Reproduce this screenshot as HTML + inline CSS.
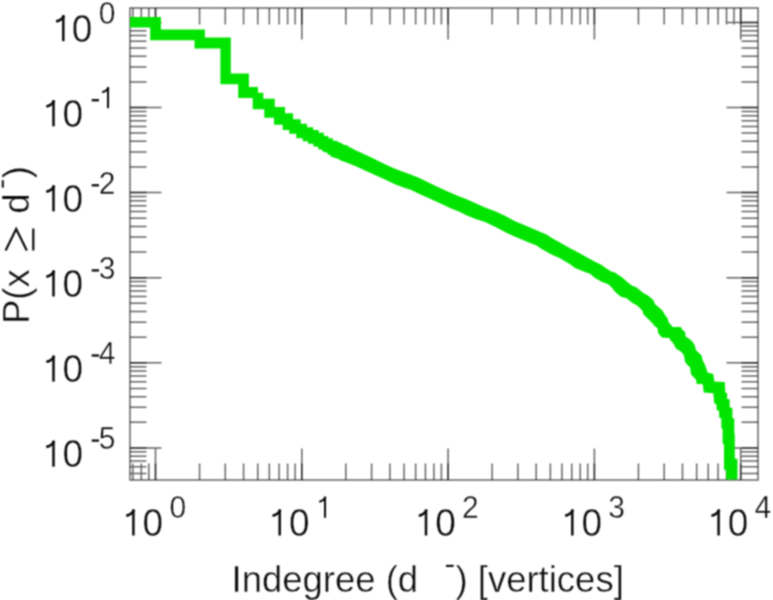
<!DOCTYPE html>
<html><head><meta charset="utf-8"><style>html,body{margin:0;padding:0;background:#fff;width:773px;height:600px;overflow:hidden}svg{display:block}</style></head>
<body>
<svg width="773" height="600" viewBox="0 0 773 600">
<defs><filter id="bl" color-interpolation-filters="sRGB" filterUnits="userSpaceOnUse" x="0" y="0" width="773" height="600"><feConvolveMatrix order="3" kernelMatrix="1 2 1 2 4 2 1 2 1" divisor="16" edgeMode="duplicate"/></filter><clipPath id="c"><rect x="129.2" y="8.0" width="628.8" height="471.4"/></clipPath></defs>
<g filter="url(#bl)">
<rect width="773" height="600" fill="#fff"/>
<path d="M130.00 473.52L146.50 473.52 M758.00 473.52L741.50 473.52 M130.00 466.78L146.50 466.78 M758.00 466.78L741.50 466.78 M130.00 461.08L146.50 461.08 M758.00 461.08L741.50 461.08 M130.00 456.15L146.50 456.15 M758.00 456.15L741.50 456.15 M130.00 451.79L146.50 451.79 M758.00 451.79L741.50 451.79 M130.00 447.90L161.50 447.90 M758.00 447.90L726.50 447.90 M130.00 422.28L146.50 422.28 M758.00 422.28L741.50 422.28 M130.00 407.30L146.50 407.30 M758.00 407.30L741.50 407.30 M130.00 396.66L146.50 396.66 M758.00 396.66L741.50 396.66 M130.00 388.42L146.50 388.42 M758.00 388.42L741.50 388.42 M130.00 381.68L146.50 381.68 M758.00 381.68L741.50 381.68 M130.00 375.98L146.50 375.98 M758.00 375.98L741.50 375.98 M130.00 371.05L146.50 371.05 M758.00 371.05L741.50 371.05 M130.00 366.69L146.50 366.69 M758.00 366.69L741.50 366.69 M130.00 362.80L161.50 362.80 M758.00 362.80L726.50 362.80 M130.00 337.18L146.50 337.18 M758.00 337.18L741.50 337.18 M130.00 322.20L146.50 322.20 M758.00 322.20L741.50 322.20 M130.00 311.56L146.50 311.56 M758.00 311.56L741.50 311.56 M130.00 303.32L146.50 303.32 M758.00 303.32L741.50 303.32 M130.00 296.58L146.50 296.58 M758.00 296.58L741.50 296.58 M130.00 290.88L146.50 290.88 M758.00 290.88L741.50 290.88 M130.00 285.95L146.50 285.95 M758.00 285.95L741.50 285.95 M130.00 281.59L146.50 281.59 M758.00 281.59L741.50 281.59 M130.00 277.70L161.50 277.70 M758.00 277.70L726.50 277.70 M130.00 252.08L146.50 252.08 M758.00 252.08L741.50 252.08 M130.00 237.10L146.50 237.10 M758.00 237.10L741.50 237.10 M130.00 226.46L146.50 226.46 M758.00 226.46L741.50 226.46 M130.00 218.22L146.50 218.22 M758.00 218.22L741.50 218.22 M130.00 211.48L146.50 211.48 M758.00 211.48L741.50 211.48 M130.00 205.78L146.50 205.78 M758.00 205.78L741.50 205.78 M130.00 200.85L146.50 200.85 M758.00 200.85L741.50 200.85 M130.00 196.49L146.50 196.49 M758.00 196.49L741.50 196.49 M130.00 192.60L161.50 192.60 M758.00 192.60L726.50 192.60 M130.00 166.98L146.50 166.98 M758.00 166.98L741.50 166.98 M130.00 152.00L146.50 152.00 M758.00 152.00L741.50 152.00 M130.00 141.36L146.50 141.36 M758.00 141.36L741.50 141.36 M130.00 133.12L146.50 133.12 M758.00 133.12L741.50 133.12 M130.00 126.38L146.50 126.38 M758.00 126.38L741.50 126.38 M130.00 120.68L146.50 120.68 M758.00 120.68L741.50 120.68 M130.00 115.75L146.50 115.75 M758.00 115.75L741.50 115.75 M130.00 111.39L146.50 111.39 M758.00 111.39L741.50 111.39 M130.00 107.50L161.50 107.50 M758.00 107.50L726.50 107.50 M130.00 81.88L146.50 81.88 M758.00 81.88L741.50 81.88 M130.00 66.90L146.50 66.90 M758.00 66.90L741.50 66.90 M130.00 56.26L146.50 56.26 M758.00 56.26L741.50 56.26 M130.00 48.02L146.50 48.02 M758.00 48.02L741.50 48.02 M130.00 41.28L146.50 41.28 M758.00 41.28L741.50 41.28 M130.00 35.58L146.50 35.58 M758.00 35.58L741.50 35.58 M130.00 30.65L146.50 30.65 M758.00 30.65L741.50 30.65 M130.00 26.29L146.50 26.29 M758.00 26.29L741.50 26.29 M130.00 22.40L161.50 22.40 M758.00 22.40L726.50 22.40 M132.84 480.00L132.84 463.50 M132.84 8.00L132.84 24.50 M141.32 480.00L141.32 463.50 M141.32 8.00L141.32 24.50 M148.81 480.00L148.81 463.50 M148.81 8.00L148.81 24.50 M155.50 480.00L155.50 448.50 M155.50 8.00L155.50 39.50 M199.54 480.00L199.54 463.50 M199.54 8.00L199.54 24.50 M225.30 480.00L225.30 463.50 M225.30 8.00L225.30 24.50 M243.58 480.00L243.58 463.50 M243.58 8.00L243.58 24.50 M257.76 480.00L257.76 463.50 M257.76 8.00L257.76 24.50 M269.34 480.00L269.34 463.50 M269.34 8.00L269.34 24.50 M279.14 480.00L279.14 463.50 M279.14 8.00L279.14 24.50 M287.62 480.00L287.62 463.50 M287.62 8.00L287.62 24.50 M295.11 480.00L295.11 463.50 M295.11 8.00L295.11 24.50 M301.80 480.00L301.80 448.50 M301.80 8.00L301.80 39.50 M345.84 480.00L345.84 463.50 M345.84 8.00L345.84 24.50 M371.60 480.00L371.60 463.50 M371.60 8.00L371.60 24.50 M389.88 480.00L389.88 463.50 M389.88 8.00L389.88 24.50 M404.06 480.00L404.06 463.50 M404.06 8.00L404.06 24.50 M415.64 480.00L415.64 463.50 M415.64 8.00L415.64 24.50 M425.44 480.00L425.44 463.50 M425.44 8.00L425.44 24.50 M433.92 480.00L433.92 463.50 M433.92 8.00L433.92 24.50 M441.41 480.00L441.41 463.50 M441.41 8.00L441.41 24.50 M448.10 480.00L448.10 448.50 M448.10 8.00L448.10 39.50 M492.14 480.00L492.14 463.50 M492.14 8.00L492.14 24.50 M517.90 480.00L517.90 463.50 M517.90 8.00L517.90 24.50 M536.18 480.00L536.18 463.50 M536.18 8.00L536.18 24.50 M550.36 480.00L550.36 463.50 M550.36 8.00L550.36 24.50 M561.94 480.00L561.94 463.50 M561.94 8.00L561.94 24.50 M571.74 480.00L571.74 463.50 M571.74 8.00L571.74 24.50 M580.22 480.00L580.22 463.50 M580.22 8.00L580.22 24.50 M587.71 480.00L587.71 463.50 M587.71 8.00L587.71 24.50 M594.40 480.00L594.40 448.50 M594.40 8.00L594.40 39.50 M638.44 480.00L638.44 463.50 M638.44 8.00L638.44 24.50 M664.20 480.00L664.20 463.50 M664.20 8.00L664.20 24.50 M682.48 480.00L682.48 463.50 M682.48 8.00L682.48 24.50 M696.66 480.00L696.66 463.50 M696.66 8.00L696.66 24.50 M708.24 480.00L708.24 463.50 M708.24 8.00L708.24 24.50 M718.04 480.00L718.04 463.50 M718.04 8.00L718.04 24.50 M726.52 480.00L726.52 463.50 M726.52 8.00L726.52 24.50 M734.01 480.00L734.01 463.50 M734.01 8.00L734.01 24.50 M740.70 480.00L740.70 448.50 M740.70 8.00L740.70 39.50" stroke="#000" stroke-opacity="0.6" stroke-width="1.5" fill="none"/>
<path d="M130.00 447.90L146.50 447.90 M758.00 447.90L741.50 447.90 M130.00 362.80L146.50 362.80 M758.00 362.80L741.50 362.80 M130.00 277.70L146.50 277.70 M758.00 277.70L741.50 277.70 M130.00 192.60L146.50 192.60 M758.00 192.60L741.50 192.60 M130.00 107.50L146.50 107.50 M758.00 107.50L741.50 107.50 M130.00 22.40L146.50 22.40 M758.00 22.40L741.50 22.40 M155.50 480.00L155.50 463.50 M155.50 8.00L155.50 24.50 M301.80 480.00L301.80 463.50 M301.80 8.00L301.80 24.50 M448.10 480.00L448.10 463.50 M448.10 8.00L448.10 24.50 M594.40 480.00L594.40 463.50 M594.40 8.00L594.40 24.50 M740.70 480.00L740.70 463.50 M740.70 8.00L740.70 24.50" stroke="#000" stroke-opacity="0.6" stroke-width="1.5" fill="none"/>
<rect x="130.0" y="8.0" width="628.0" height="472.0" fill="none" stroke="#000" stroke-opacity="0.6" stroke-width="1.5"/>
<polygon points="130.0,17.0 160.9,17.0 160.9,29.4 204.9,29.4 204.9,37.6 230.8,37.6 230.8,73.5 248.9,73.5 248.9,87.0 258.0,87.0 258.0,92.7 263.3,92.7 263.3,98.7 274.8,98.7 274.8,107.0 285.0,107.0 285.0,113.2 293.1,113.2 293.1,119.3 300.7,119.3 300.7,123.7 307.0,123.7 307.0,127.3 313.2,127.3 313.2,130.1 318.7,130.1 318.7,132.7 323.9,132.7 323.9,135.9 328.4,135.9 328.4,138.3 332.9,138.3 332.9,140.7 337.0,140.7 338.5,142.3 341.5,143.0 343.0,144.5 347.5,145.6 349.0,147.1 352.0,148.3 355.0,150.0 365.0,154.6 375.0,159.2 385.0,164.2 395.0,168.8 405.0,172.5 410.0,174.2 420.0,178.3 430.0,183.3 440.0,187.9 450.0,192.5 460.0,196.7 465.0,198.6 475.0,202.9 485.0,207.5 495.0,211.2 505.0,215.8 515.0,221.2 520.0,223.3 530.0,227.5 540.0,231.7 547.5,235.0 550.0,237.1 560.0,242.5 570.0,248.3 575.0,250.8 585.0,256.2 595.0,261.7 601.7,265.0 605.0,267.5 611.7,271.7 615.0,272.5 618.3,275.0 621.7,277.1 625.0,280.0 631.7,285.4 636.7,287.5 643.3,292.9 648.3,295.8 653.3,300.0 655.0,304.2 660.0,308.3 663.3,311.7 665.0,315.0 667.5,318.3 668.8,322.5 671.7,325.8 672.5,327.1 680.8,327.1 682.5,330.0 685.0,331.7 685.8,336.7 689.2,338.8 692.5,341.7 695.0,345.8 695.8,350.0 699.2,353.3 701.7,355.8 702.5,360.0 704.2,363.3 705.5,366.2 707.6,372.4 713.3,374.0 714.3,381.6 724.8,381.9 725.3,392.4 727.1,392.9 727.1,398.9 729.7,399.3 729.7,407.6 732.4,408.0 732.4,418.1 734.3,418.6 734.3,433.5 734.8,434.0 734.8,458.5 737.5,459.0 737.5,480.0 726.1,480.0 726.1,470.4 724.0,469.3 724.0,444.4 722.6,443.3 722.6,429.2 721.3,428.1 721.3,418.6 719.3,417.7 719.0,410.8 716.6,409.9 716.6,404.4 714.3,403.4 713.3,393.3 703.7,392.4 702.8,384.2 696.4,383.7 696.2,379.7 691.1,374.5 690.0,367.3 687.5,365.0 685.0,361.7 684.2,356.7 683.3,354.2 680.0,350.8 676.7,349.2 675.0,346.7 673.3,343.3 670.8,340.8 669.2,337.9 661.7,337.5 658.3,333.3 657.5,328.3 654.2,325.8 653.3,324.2 650.0,320.8 646.7,317.5 643.3,314.2 642.5,310.8 637.5,305.8 631.7,302.5 626.7,298.3 620.8,296.7 615.0,291.7 611.7,287.5 608.3,284.2 601.7,281.7 595.0,277.9 590.0,273.8 585.0,272.1 575.0,267.9 570.0,264.2 560.0,258.3 550.0,253.8 540.0,247.9 536.7,245.4 530.0,242.9 520.0,238.8 515.0,236.7 505.0,232.1 495.0,226.7 485.0,222.1 475.0,218.8 467.0,215.5 460.0,212.1 450.0,207.9 440.0,203.3 430.0,198.8 420.0,194.2 410.0,189.6 405.0,187.9 395.0,184.2 385.0,179.6 375.0,175.0 365.0,170.4 355.8,166.3 352.0,164.8 349.0,163.6 344.5,161.8 340.0,160.3 338.5,159.1 335.5,158.0 330.6,156.5 330.6,155.0 327.6,154.6 327.6,152.8 322.4,151.6 322.4,149.7 318.2,149.3 318.2,146.8 313.4,146.6 313.4,143.8 308.0,143.8 308.0,141.3 302.7,141.3 302.7,138.3 296.3,138.3 296.3,133.7 289.3,133.7 289.3,130.0 282.7,130.0 282.7,124.7 274.0,124.7 274.0,117.7 264.3,117.7 264.3,109.3 252.7,109.3 252.7,98.0 238.2,98.0 238.2,84.3 220.4,84.3 220.4,48.5 194.5,48.5 194.5,40.3 150.2,40.3 150.2,27.4 130.0,27.4" fill="#00e400" clip-path="url(#c)"/>
<g font-family="Liberation Sans, sans-serif" fill="#0c0c0c" stroke="#fff" stroke-width="0.4">
<text transform="translate(71.75,41.60) scale(1,1.035)" font-size="37.0">0</text>
<text transform="translate(98.70,23.50) scale(1,1.06)" font-size="30.0">0</text>
<text transform="translate(62.50,126.70) scale(1,1.035)" font-size="37.0">0</text>
<text transform="translate(62.50,211.80) scale(1,1.035)" font-size="37.0">0</text>
<text transform="translate(98.70,193.70) scale(1,1.06)" font-size="30.0">2</text>
<text transform="translate(62.50,296.90) scale(1,1.035)" font-size="37.0">0</text>
<text transform="translate(98.70,278.80) scale(1,1.06)" font-size="30.0">3</text>
<text transform="translate(62.50,382.00) scale(1,1.035)" font-size="37.0">0</text>
<text transform="translate(98.70,363.90) scale(1,1.06)" font-size="30.0">4</text>
<text transform="translate(62.50,467.10) scale(1,1.035)" font-size="37.0">0</text>
<text transform="translate(98.70,449.00) scale(1,1.06)" font-size="30.0">5</text>
<text transform="translate(142.60,535.90) scale(1,1.035)" font-size="37.0">0</text>
<text transform="translate(169.40,518.20) scale(1,1.06)" font-size="30.0">0</text>
<text transform="translate(288.90,535.90) scale(1,1.035)" font-size="37.0">0</text>
<text transform="translate(435.20,535.90) scale(1,1.035)" font-size="37.0">0</text>
<text transform="translate(462.00,518.20) scale(1,1.06)" font-size="30.0">2</text>
<text transform="translate(581.50,535.90) scale(1,1.035)" font-size="37.0">0</text>
<text transform="translate(608.30,518.20) scale(1,1.06)" font-size="30.0">3</text>
<text transform="translate(727.80,535.90) scale(1,1.035)" font-size="37.0">0</text>
<text transform="translate(754.60,518.20) scale(1,1.06)" font-size="30.0">4</text>
<text transform="translate(0,591.7) scale(1,1.02)" x="231.5" y="0" font-size="36.5">Indegree (d</text>
<text transform="translate(0,591.7) scale(1,1.02)" x="455.5" y="0" font-size="36.5">) [vertices]</text>
<g transform="translate(28.5,324) rotate(-90) scale(1,1.02)"><text x="0" y="0" font-size="36.5">P(x</text><text x="110.17" y="0" font-size="36.5">d</text><text x="145.68" y="0" font-size="36.5">)</text></g>
</g>
<g fill="none" stroke="#0c0c0c" stroke-linecap="butt">
<path d="M63.30 41.20V15.12" stroke-width="2.52"/>
<path d="M64.05 15.62Q61.45 20.48 56.08 21.41" stroke-width="2.64"/>
<path d="M53.50 126.30V100.22" stroke-width="2.52"/>
<path d="M54.25 100.72Q51.65 105.58 46.28 106.50" stroke-width="2.64"/>
<path d="M108.03 108.20V87.05" stroke-width="2.04"/>
<path d="M108.64 87.46Q106.53 91.40 102.18 92.15" stroke-width="2.14"/>
<path d="M53.50 211.40V185.31" stroke-width="2.52"/>
<path d="M54.25 185.82Q51.65 190.68 46.28 191.61" stroke-width="2.64"/>
<path d="M53.50 296.50V270.42" stroke-width="2.52"/>
<path d="M54.25 270.92Q51.65 275.78 46.28 276.70" stroke-width="2.64"/>
<path d="M53.50 381.60V355.51" stroke-width="2.52"/>
<path d="M54.25 356.02Q51.65 360.88 46.28 361.80" stroke-width="2.64"/>
<path d="M53.50 466.70V440.62" stroke-width="2.52"/>
<path d="M54.25 441.12Q51.65 445.98 46.28 446.90" stroke-width="2.64"/>
<path d="M133.40 535.50V509.42" stroke-width="2.52"/>
<path d="M134.15 509.92Q131.55 514.78 126.19 515.71" stroke-width="2.64"/>
<path d="M279.70 535.50V509.42" stroke-width="2.52"/>
<path d="M280.45 509.92Q277.85 514.78 272.49 515.71" stroke-width="2.64"/>
<path d="M325.03 517.80V496.65" stroke-width="2.04"/>
<path d="M325.64 497.06Q323.53 501.00 319.18 501.75" stroke-width="2.14"/>
<path d="M426.00 535.50V509.42" stroke-width="2.52"/>
<path d="M426.75 509.92Q424.15 514.78 418.79 515.71" stroke-width="2.64"/>
<path d="M572.30 535.50V509.42" stroke-width="2.52"/>
<path d="M573.05 509.92Q570.45 514.78 565.09 515.71" stroke-width="2.64"/>
<path d="M718.60 535.50V509.42" stroke-width="2.52"/>
<path d="M719.35 509.92Q716.75 514.78 711.38 515.71" stroke-width="2.64"/>
<path d="M5.6 250.4L16.2 229.0L26.8 250.4M33.3 228.4V250.6" stroke-width="2.2" fill="none"/>
</g>
<g fill="#0c0c0c">
<rect x="91.70" y="99.05" width="7.30" height="2.3"/>
<rect x="91.70" y="184.15" width="7.30" height="2.3"/>
<rect x="91.70" y="269.25" width="7.30" height="2.3"/>
<rect x="91.70" y="354.35" width="7.30" height="2.3"/>
<rect x="91.70" y="439.45" width="7.30" height="2.3"/>
<rect x="446.00" y="564.85" width="7.70" height="2.1"/>
<rect x="1.8" y="180.3" width="2.0" height="7.3"/>
</g>
</g>
</svg>
</body></html>
